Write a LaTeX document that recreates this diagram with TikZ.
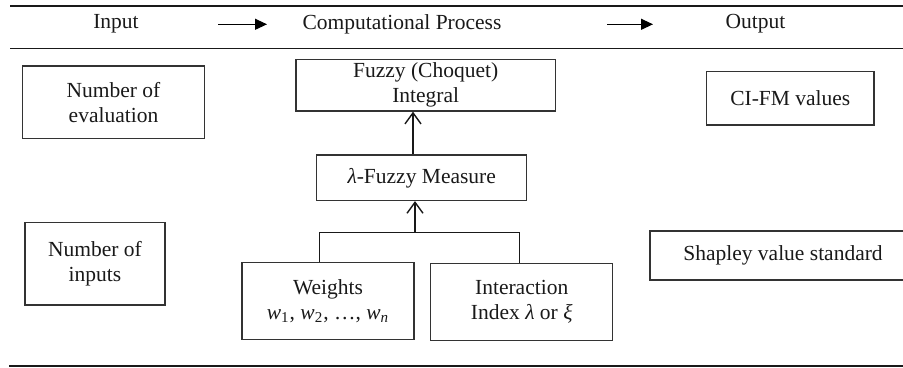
\documentclass[tikz,border=0pt]{standalone}
\usepackage{fontspec}
\setmainfont{Liberation Serif}
\usetikzlibrary{arrows.meta}
\begin{document}
\begin{tikzpicture}[x=0.5pt,y=-0.5pt,
  every node/.style={font=\fontsize{10.75pt}{12.5pt}\selectfont, text=black!90},
  boxnode/.style={draw=black!80, line width=0.6pt, inner sep=0pt, align=center},
  rule/.style={line width=0.7pt, black!90},
  headarrow/.style={line width=0.6pt, -{Triangle[length=6pt,width=5.5pt]}},
  flow/.style={line width=0.7pt, black!90, -{Straight Barb[length=5.5pt,width=8pt,line width=0.7pt]}},
  link/.style={line width=0.6pt, black!90}]
\useasboundingbox (0,0) rectangle (903,368);
\clip (0,0) rectangle (903,368);
% header
\coordinate (r1a) at (10,6);   \coordinate (r1b) at (903,6);
\coordinate (r2a) at (10,48.3); \coordinate (r2b) at (903,48.3);
\coordinate (r3a) at (9,366);  \coordinate (r3b) at (903,366);
\draw[rule] (r1a) -- (r1b);
\draw[rule] (r2a) -- (r2b);
\draw[rule] (r3a) -- (r3b);
\node (hin) at (116,24) {Input};
\node (hcp) at (402,24) {Computational Process};
\node (hout) at (755.5,24) {Output};
\coordinate (a1s) at (218,24.3); \coordinate (a1e) at (267,24.3);
\coordinate (a2s) at (607,24.3); \coordinate (a2e) at (653,24.3);
\draw[headarrow] (a1s) -- (a1e);
\draw[headarrow] (a2s) -- (a2e);
% input boxes
\node[boxnode, minimum width=90.8pt, minimum height=36.2pt] (eval) at (113.5,102.2) {Number of\\evaluation};
\node[boxnode, minimum width=70pt, minimum height=41.3pt] (inputs) at (95,263.7) {Number of\\inputs};
% process boxes
\node[boxnode, minimum width=129.7pt, minimum height=25.9pt] (fuzzy) at (425.7,85.2) {Fuzzy (Choquet)\\Integral};
\node[boxnode, minimum width=105pt, minimum height=22.7pt] (lambda) at (421.7,177.8) {{\itshape λ}-Fuzzy Measure};
\node[boxnode, minimum width=86pt, minimum height=38.3pt] (weights) at (328,301) {Weights\\{\itshape w}\textsubscript{1}, {\itshape w}\textsubscript{2}, …, {\itshape w\textsubscript{n}}};
\node[boxnode, minimum width=91pt, minimum height=38.7pt] (inter) at (521.7,302) {Interaction\\Index {\itshape λ} or {\itshape ξ}};
% output boxes
\node[boxnode, minimum width=83.7pt, minimum height=26.7pt] (cifm) at (790.3,98.3) {CI-FM values};
\node[boxnode, minimum width=133pt, minimum height=24.5pt] (shap) at (783,255.5) {Shapley value standard};
% connectors
\coordinate (up1) at (413,0);
\draw[flow] (lambda.north -| up1) -- (fuzzy.south -| up1);
\coordinate (j) at (415,232.5);
\coordinate (jl) at (319.3,232.5);
\coordinate (jr) at (519.3,232.5);
\draw[flow] (j) -- (lambda.south -| j);
\draw[link] (weights.north -| jl) -- (jl) -- (jr) -- (inter.north -| jr);
\end{tikzpicture}
\end{document}
